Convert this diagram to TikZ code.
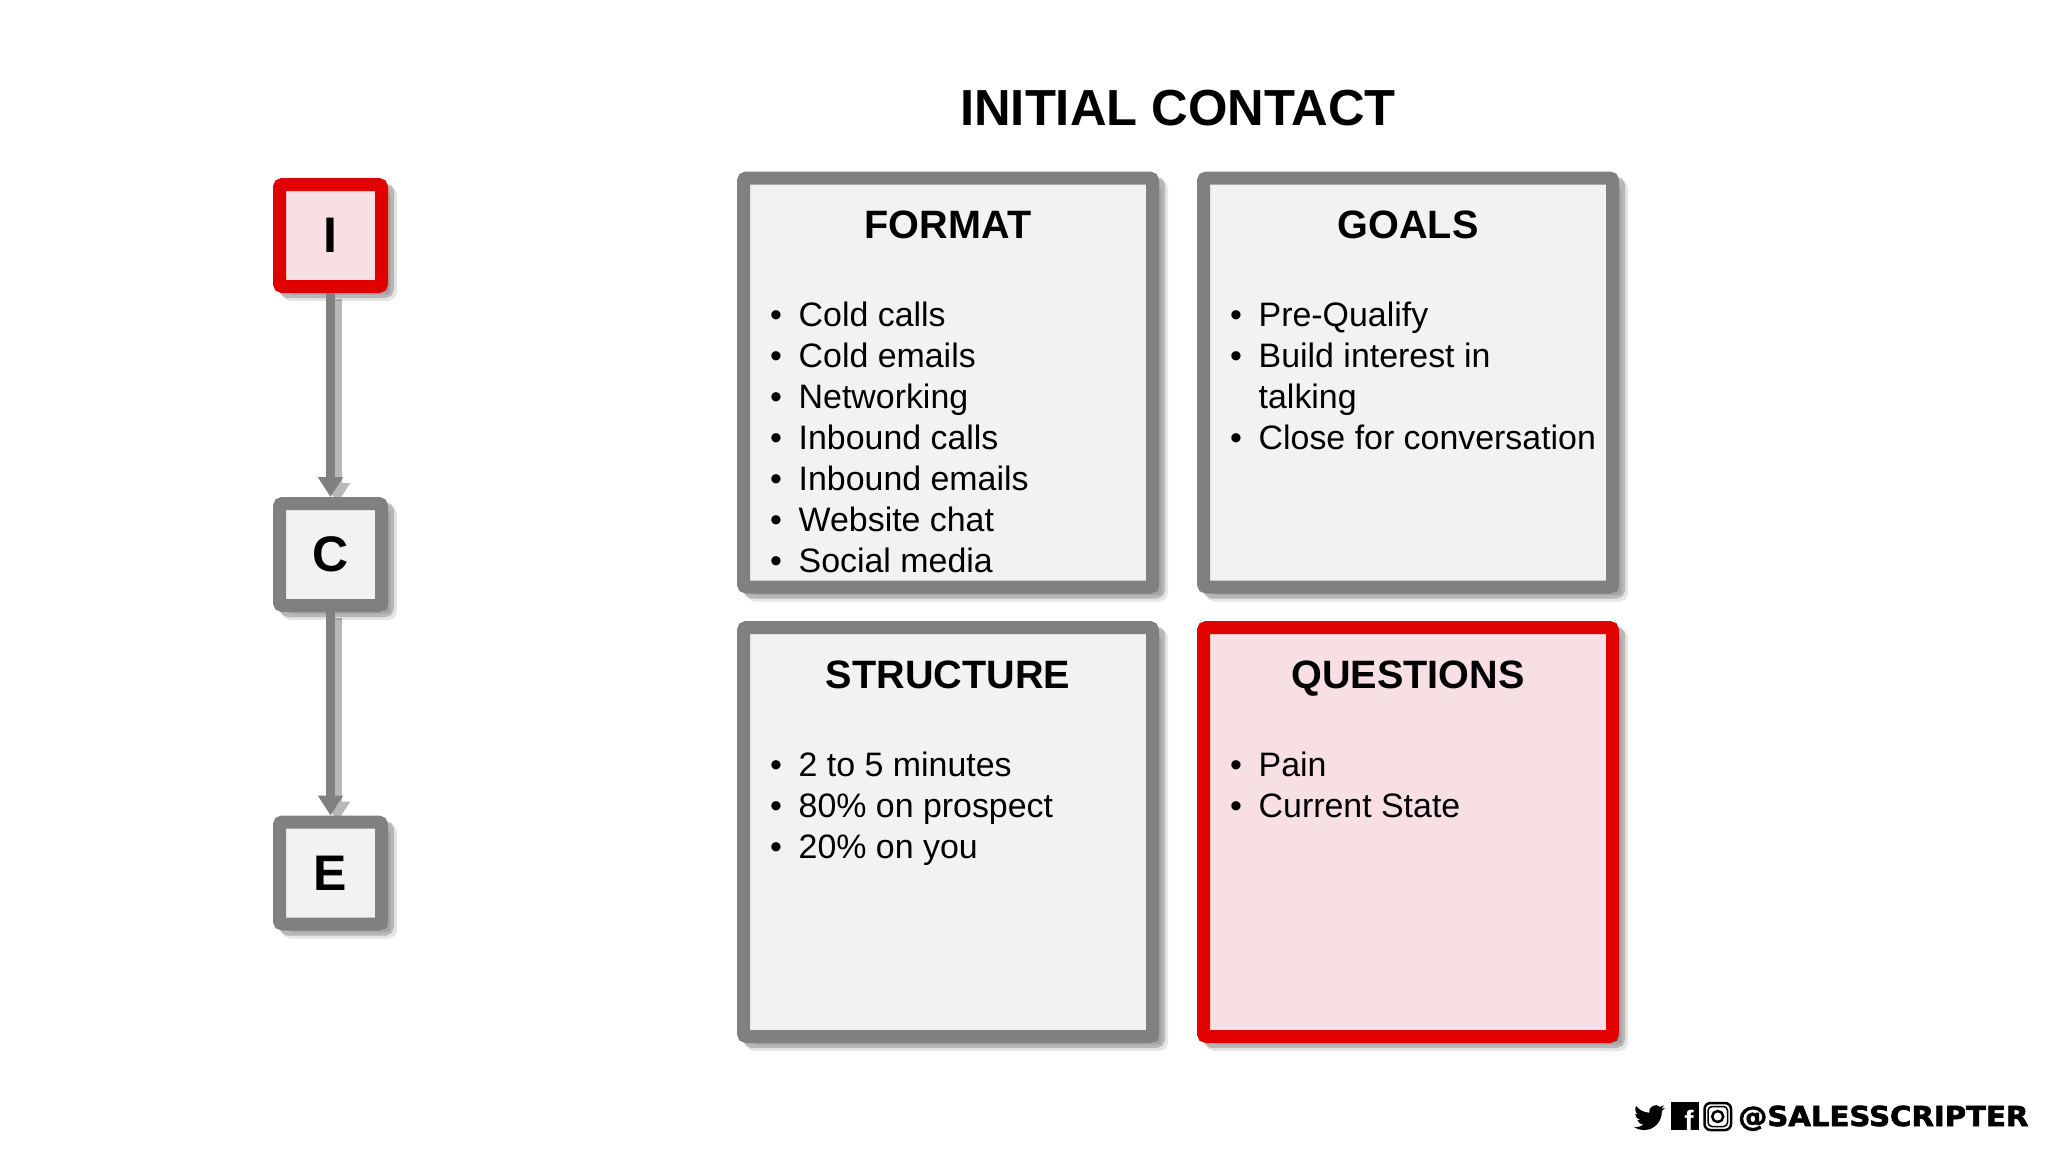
\documentclass[tikz,border=0pt]{standalone}
\usepackage{fontspec}
\setmainfont{Liberation Sans}
\newfontfamily\tagfont[FakeBold=2.5,FakeStretch=1.06]{DejaVu Sans Bold}
\usetikzlibrary{arrows.meta,shadows,backgrounds}
\definecolor{framegray}{HTML}{808080}
\definecolor{framered}{HTML}{E00000}
\definecolor{panelgray}{HTML}{F2F2F3}
\definecolor{panelpink}{HTML}{F7DFE3}

\begin{document}
\begin{tikzpicture}[x=1pt,y=-1pt,
softshade/.style={general shadow={shadow xshift=9pt,shadow yshift=-8pt,draw=black,fill=black,opacity=.10},
  general shadow={shadow xshift=6pt,shadow yshift=-5pt,draw=black,fill=black,opacity=.20}},
card/.style={draw=framegray,fill=panelgray,line width=13pt,rounded corners=3pt,inner sep=0pt,softshade},
hot/.style={draw=framered,fill=panelpink},
stepbox/.style={card,minimum size=102pt,font=\bfseries\fontsize{50}{56}\selectfont},
panel/.style={card,minimum size=409pt},
head/.style={anchor=base,inner sep=0pt,font=\bfseries\fontsize{39.6}{44}\selectfont},
line/.style={anchor=base west,inner sep=0pt,font=\fontsize{33.9}{40}\selectfont},
flow/.style={draw=framegray,line width=9pt,-{Triangle[width=24pt,length=20pt]}},
flowshade/.style={draw=black!28,line width=9pt,-{Triangle[width=24pt,length=20pt]},transform canvas={xshift=7pt,yshift=-6pt}}]
\useasboundingbox (0,0) rectangle (2048,1152);

\node[anchor=base,inner sep=0pt,font=\bfseries\fontsize{50.7}{56}\selectfont] at (1178,125) (title) {INITIAL CONTACT};

\node[stepbox,hot] at (330.5,235.5) (i) {I};
\node[stepbox] at (330.5,554.5) (c) {C};
\node[stepbox] at (330.5,873) (e) {E};

\node[panel] at (948,382.5) (format) {};
\node[panel] at (1408,382.5) (goals) {};
\node[panel] at (948,832) (structure) {};
\node[panel,hot] at (1408,832) (questions) {};

\begin{scope}[on background layer]
\draw[flowshade] (i) -- (c);
\draw[flowshade] (c) -- (e);
\end{scope}
\draw[flow] (i) -- (c);
\draw[flow] (c) -- (e);

\node[head] at (948,238) (formathead) {FORMAT};
\node[head] at (1408,238) (goalshead) {GOALS};
\node[head] at (948,688) (structurehead) {STRUCTURE};
\node[head] at (1408,688) (questionshead) {QUESTIONS};

% bullet lists
\foreach \txt [count=\n] in {Cold calls,Cold emails,Networking,Inbound calls,Inbound emails,Website chat,Social media}
  \node[line] at (770,285+41*\n) (formatline\n) {\makebox[28.5pt][l]{•}\txt};
\foreach \txt [count=\n] in {\makebox[28.5pt][l]{•}Pre-Qualify,\makebox[28.5pt][l]{•}Build interest in,\makebox[28.5pt][l]{}talking,\makebox[28.5pt][l]{•}Close for conversation}
  \node[line] at (1230,285+41*\n) (goalsline\n) {\txt};
\foreach \txt [count=\n] in {2 to 5 minutes,80\% on prospect,20\% on you}
  \node[line] at (770,735+41*\n) (structureline\n) {\makebox[28.5pt][l]{•}\txt};
\foreach \txt [count=\n] in {Pain,Current State}
  \node[line] at (1230,735+41*\n) (questionsline\n) {\makebox[28.5pt][l]{•}\txt};

% social tag
\begin{scope}[shift={(1634,1102)},x=1.29pt,y=-1.29pt]
\fill (23.95,4.57) .. controls (23.1,4.95) and (22.1,5.2) .. (21.13,5.35)
 .. controls (22.2,4.7) and (22.9,3.8) .. (23.29,2.62)
 .. controls (22.34,3.18) and (21.29,3.58) .. (20.16,3.8)
 .. controls (17,0.5) and (10.9,3.6) .. (11.78,8.28)
 .. controls (7.69,8.1) and (4.07,6.13) .. (1.64,3.16)
 .. controls (0.4,5.2) and (1,8.3) .. (3.16,9.73)
 .. controls (2.4,9.7) and (1.6,9.5) .. (0.93,9.12)
 .. controls (1,11.6) and (2.6,13.5) .. (4.88,14)
 .. controls (4.15,14.15) and (3.4,14.2) .. (2.67,14.09)
 .. controls (3.3,16.1) and (5.15,17.45) .. (7.27,17.5)
 .. controls (5.6,18.8) and (3.5,19.6) .. (1.17,19.6)
 .. controls (0.78,19.6) and (0.39,19.58) .. (0,19.54)
 .. controls (2.2,20.95) and (4.8,21.75) .. (7.56,21.75)
 .. controls (16.6,21.75) and (21.55,14.25) .. (21.55,7.76)
 .. controls (21.55,7.55) and (21.55,7.34) .. (21.54,7.13)
 .. controls (22.5,6.44) and (23.3,5.55) .. (24,4.59) -- cycle;
\end{scope}
\fill (1671,1102) rectangle (1699,1130);
\node[anchor=base,inner sep=0pt,text=white,font=\bfseries\fontsize{28}{30}\selectfont] at (1689,1130) (fb) {f};
\draw[line width=2.5pt,rounded corners=6pt] (1704.5,1103) rectangle (1731,1130);
\draw[line width=1.5pt,rounded corners=4pt] (1708,1106.5) rectangle (1727.5,1126.5);
\draw[line width=2.5pt] (1717.7,1116.5) circle (5.5pt);
\node[anchor=base west,inner sep=0pt,font=\tagfont\fontsize{27.5}{30}\selectfont] at (1738,1126) (tag) {@SALESSCRIPTER};
\end{tikzpicture}
\end{document}
